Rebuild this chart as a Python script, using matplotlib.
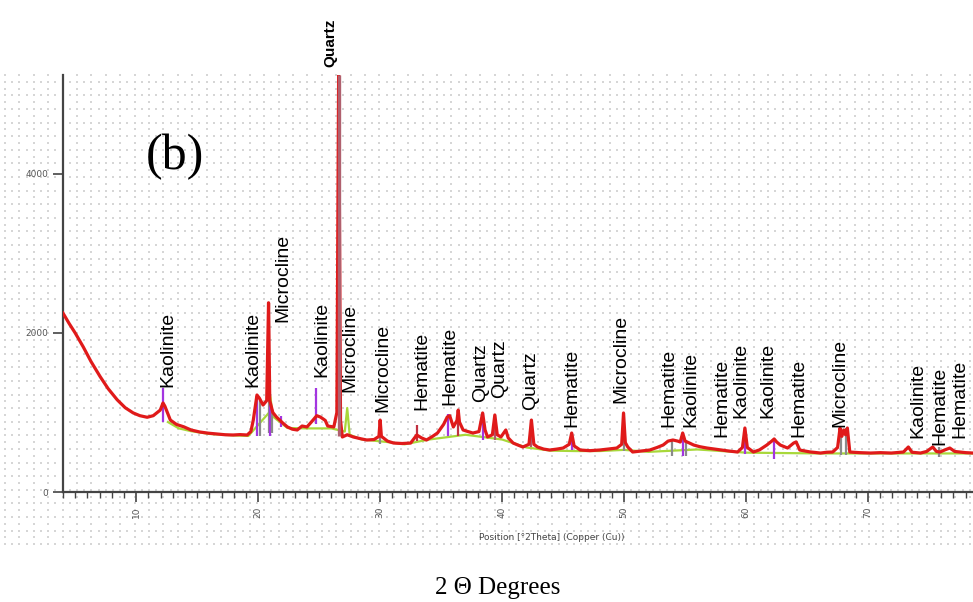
import matplotlib.pyplot as plt
from matplotlib.ticker import MultipleLocator
import numpy as np

# measured pattern (red trace)
two_theta = [4.0, 4.5, 5.0, 5.66, 6.3, 7.05, 7.7, 8.44, 9.1, 9.75, 10.3, 10.9, 11.4, 11.97, 12.2, 12.35,
             12.8, 13.3, 13.9, 14.5, 15.2, 15.9, 16.6, 17.3, 17.95, 18.5, 19.1, 19.4, 19.6, 19.9, 20.1,
             20.4, 20.7, 20.85, 20.95, 21.2, 21.5, 22.0, 22.4, 22.8, 23.2, 23.6, 24.0, 24.5, 24.8, 25.1,
             25.5, 25.7, 26.2, 26.45, 26.6, 26.75, 26.9, 27.3, 27.8, 28.4, 28.9, 29.5, 29.9, 30.0, 30.1,
             30.6, 31.1, 31.8, 32.5, 33.0, 33.4, 33.8, 34.3, 34.7, 35.2, 35.5, 35.7, 36.0, 36.3, 36.4,
             36.5, 36.8, 37.2, 37.6, 38.1, 38.4, 38.6, 38.8, 39.2, 39.4, 39.6, 39.9, 40.3, 40.5, 40.9,
             41.3, 41.7, 42.2, 42.4, 42.6, 42.9, 43.4, 43.9, 44.5, 45.0, 45.5, 45.7, 45.9, 46.4, 47.2,
             48.0, 48.7, 49.4, 49.8, 49.95, 50.1, 50.3, 50.7, 51.4, 52.1, 52.7, 53.2, 53.6, 54.0, 54.4,
             54.6, 54.8, 55.0, 55.3, 55.7, 56.2, 56.8, 57.4, 57.9, 58.6, 59.3, 59.7, 59.9, 60.1, 60.6,
             61.1, 61.7, 62.1, 62.3, 62.5, 62.8, 63.4, 63.9, 64.1, 64.4, 65.2, 66.1, 66.6, 67.1, 67.5,
             67.7, 67.85, 68.0, 68.15, 68.3, 68.5, 69.3, 70.2, 71.0, 71.9, 72.9, 73.3, 73.6, 74.3, 74.8,
             75.3, 75.6, 75.9, 76.3, 76.7, 77.1, 77.5, 78.0, 78.6]
counts = [2250, 2120, 2000, 1825, 1640, 1450, 1300, 1160, 1060, 995, 960, 940, 960, 1030, 1120, 1080,
          905, 850, 820, 780, 755, 740, 730, 720, 717, 722, 717, 760, 905, 1220, 1180,
          1094, 1150, 2380, 1150, 1000, 943, 870, 818, 790, 780, 830, 818, 905, 960, 943,
          900, 830, 818, 1000, 5400, 900, 692, 720, 692, 670, 654, 660, 700, 905, 700,
          640, 616, 610, 616, 717, 680, 654, 700, 742, 850, 943, 960, 818, 900, 1031,
          880, 780, 760, 742, 760, 994, 780, 692, 720, 969, 720, 692, 780, 680, 616,
          590, 566, 600, 905, 600, 566, 540, 528, 540, 553, 600, 742, 580, 528, 520,
          528, 540, 553, 600, 994, 620, 566, 503, 515, 528, 560, 591, 640, 654, 640,
          629, 742, 640, 620, 591, 570, 553, 540, 528, 515, 503, 560, 805, 560, 503,
          530, 591, 640, 667, 630, 591, 553, 616, 630, 528, 505, 490, 500, 503, 560,
          805, 700, 780, 720, 805, 503, 495, 490, 495, 490, 503, 566, 500, 490, 510,
          566, 510, 503, 530, 553, 510, 503, 495, 490]

# calculated profile (green trace), sits just under the measured one
calc_theta = [12.6, 13.5, 14.5, 16.0, 18.0, 19.2, 20.9, 21.0, 21.2, 22.4, 24.0, 26.0, 27.1, 27.3, 27.5,
              28.5, 30.5, 32.0, 34.0, 37.0, 40.0, 42.0, 44.0, 46.0, 48.0, 50.0, 52.0, 56.0, 60.0, 66.0,
              72.0, 78.6]
calc_counts = [880, 800, 765, 730, 712, 705, 1000, 1200, 950, 805, 800, 800, 760, 1057, 720,
               660, 630, 600, 660, 720, 660, 560, 520, 515, 515, 530, 505, 535, 495, 485,
               485, 485]

# reference sticks
stick_pos = [12.2, 19.9, 20.15, 20.85, 20.95, 21.15, 21.9, 24.7, 30.0, 33.0, 35.6, 36.4, 38.4,
             39.4, 42.4, 45.7, 49.95, 53.9, 54.8, 55.1, 59.9, 62.3, 67.75, 68.2, 75.8]
stick_low = [880, 700, 700, 742, 700, 740, 820, 850, 600, 640, 700, 700, 650,
             650, 560, 530, 520, 450, 450, 450, 480, 420, 470, 470, 440]
stick_high = [1308, 1200, 1150, 2377, 1100, 1050, 960, 1308, 905, 843, 985, 1031, 994,
              969, 905, 742, 994, 640, 742, 650, 805, 667, 805, 805, 566]
stick_phase = ["K", "K", "M", "M", "K", "M", "K", "K", "M", "H", "K", "H", "K",
               "Q", "Q", "K", "M", "M", "K", "M", "K", "K", "M", "M", "M"]
main_peak_pos = 26.6
main_peak_low = 700

label_names = ["Kaolinite", "Kaolinite", "Microcline", "Kaolinite", "Microcline", "Microcline",
               "Hematite", "Hematite", "Quartz", "Quartz", "Quartz", "Hematite", "Microcline",
               "Hematite", "Kaolinite", "Hematite", "Kaolinite", "Kaolinite", "Hematite",
               "Microcline", "Kaolinite", "Hematite", "Hematite"]
label_pos = [12.6, 19.6, 22.0, 25.2, 27.5, 30.2, 33.4, 35.7, 38.2, 39.8, 42.3, 45.7, 49.7,
             53.7, 55.5, 58.0, 59.6, 61.8, 64.3, 67.7, 74.1, 75.9, 77.5]
label_base = [1320, 1320, 2140, 1447, 1258, 1006, 1031, 1094, 1132, 1182, 1031, 818, 1120,
              818, 818, 692, 931, 931, 692, 818, 679, 591, 679]

phase_col = {"K": "#a335e0", "M": "#8a8a8a", "Q": "#b05a6a", "H": "#c03040"}

fig = plt.figure(figsize=(9.73, 6.02), dpi=100)

# dotted background
bg = fig.add_axes([0, 0, 1, 1], zorder=-1)
bg.set_xlim(0, 973)
bg.set_ylim(602, 0)
bg.axis("off")
for i, yy in enumerate(np.arange(75, 550, 6.8)):
    step = 7.2 if i % 2 else 14.4
    xx = np.arange(5, 973, step)
    bg.scatter(xx, np.full(len(xx), yy), s=1.5, marker="s", color="#d6d6d6", linewidths=0)

ax = fig.add_axes([63 / 973, 110 / 602, 910 / 973, 417 / 602])
ax.set_facecolor("none")
ax.plot(calc_theta, calc_counts, color="#a8d83a", lw=1.6, zorder=2)
for p, lo, hi, ph in zip(stick_pos, stick_low, stick_high, stick_phase):
    ax.vlines(p, lo, hi, color=phase_col[ph], lw=1.6, zorder=3)
ax.plot(two_theta, counts, color="#e01a1a", lw=2.3, zorder=4)
ax.vlines(main_peak_pos, main_peak_low, 5245, color="#b0606e", lw=2.4, zorder=5)

for name, p, b in zip(label_names, label_pos, label_base):
    ax.text(p, b, name, rotation=90, ha="center", va="bottom", fontsize=14,
            family="Liberation Sans", zorder=6)
ax.text(25.9, 5346, "Quartz", rotation=90, ha="center", va="bottom", fontsize=11,
        fontweight="bold", family="Liberation Sans", clip_on=False)
ax.text(13.2, 4214, "(b)", ha="center", va="center", fontsize=36, family="Liberation Serif")

ax.set_xlim(4.0, 78.6)
ax.set_ylim(0, 5245)
for s in ["top", "right"]:
    ax.spines[s].set_visible(False)
for s in ["left", "bottom"]:
    ax.spines[s].set_color("#444444")
    ax.spines[s].set_linewidth(1.6)
ax.set_xticks([10, 20, 30, 40, 50, 60, 70])
ax.xaxis.set_minor_locator(MultipleLocator(1))
ax.set_yticks([0, 2000, 4000])
ax.tick_params(axis="x", which="major", length=7, width=1.2, color="#444444", labelsize=6.5,
               labelcolor="#555555", labelrotation=90)
ax.tick_params(axis="x", which="minor", length=4, width=1.0, color="#444444")
ax.tick_params(axis="y", length=7, width=1.2, color="#444444", labelsize=6.5, labelcolor="#555555")

fig.text(552 / 973, 1 - 538 / 602, "Position [°2Theta] (Copper (Cu))", fontsize=6.5, color="#444444",
         ha="center", va="center")
fig.text(498 / 973, 1 - 588 / 602, "2 Θ Degrees", fontsize=18, family="Liberation Serif",
         ha="center", va="center")

fig.savefig("out.png", dpi=100)
